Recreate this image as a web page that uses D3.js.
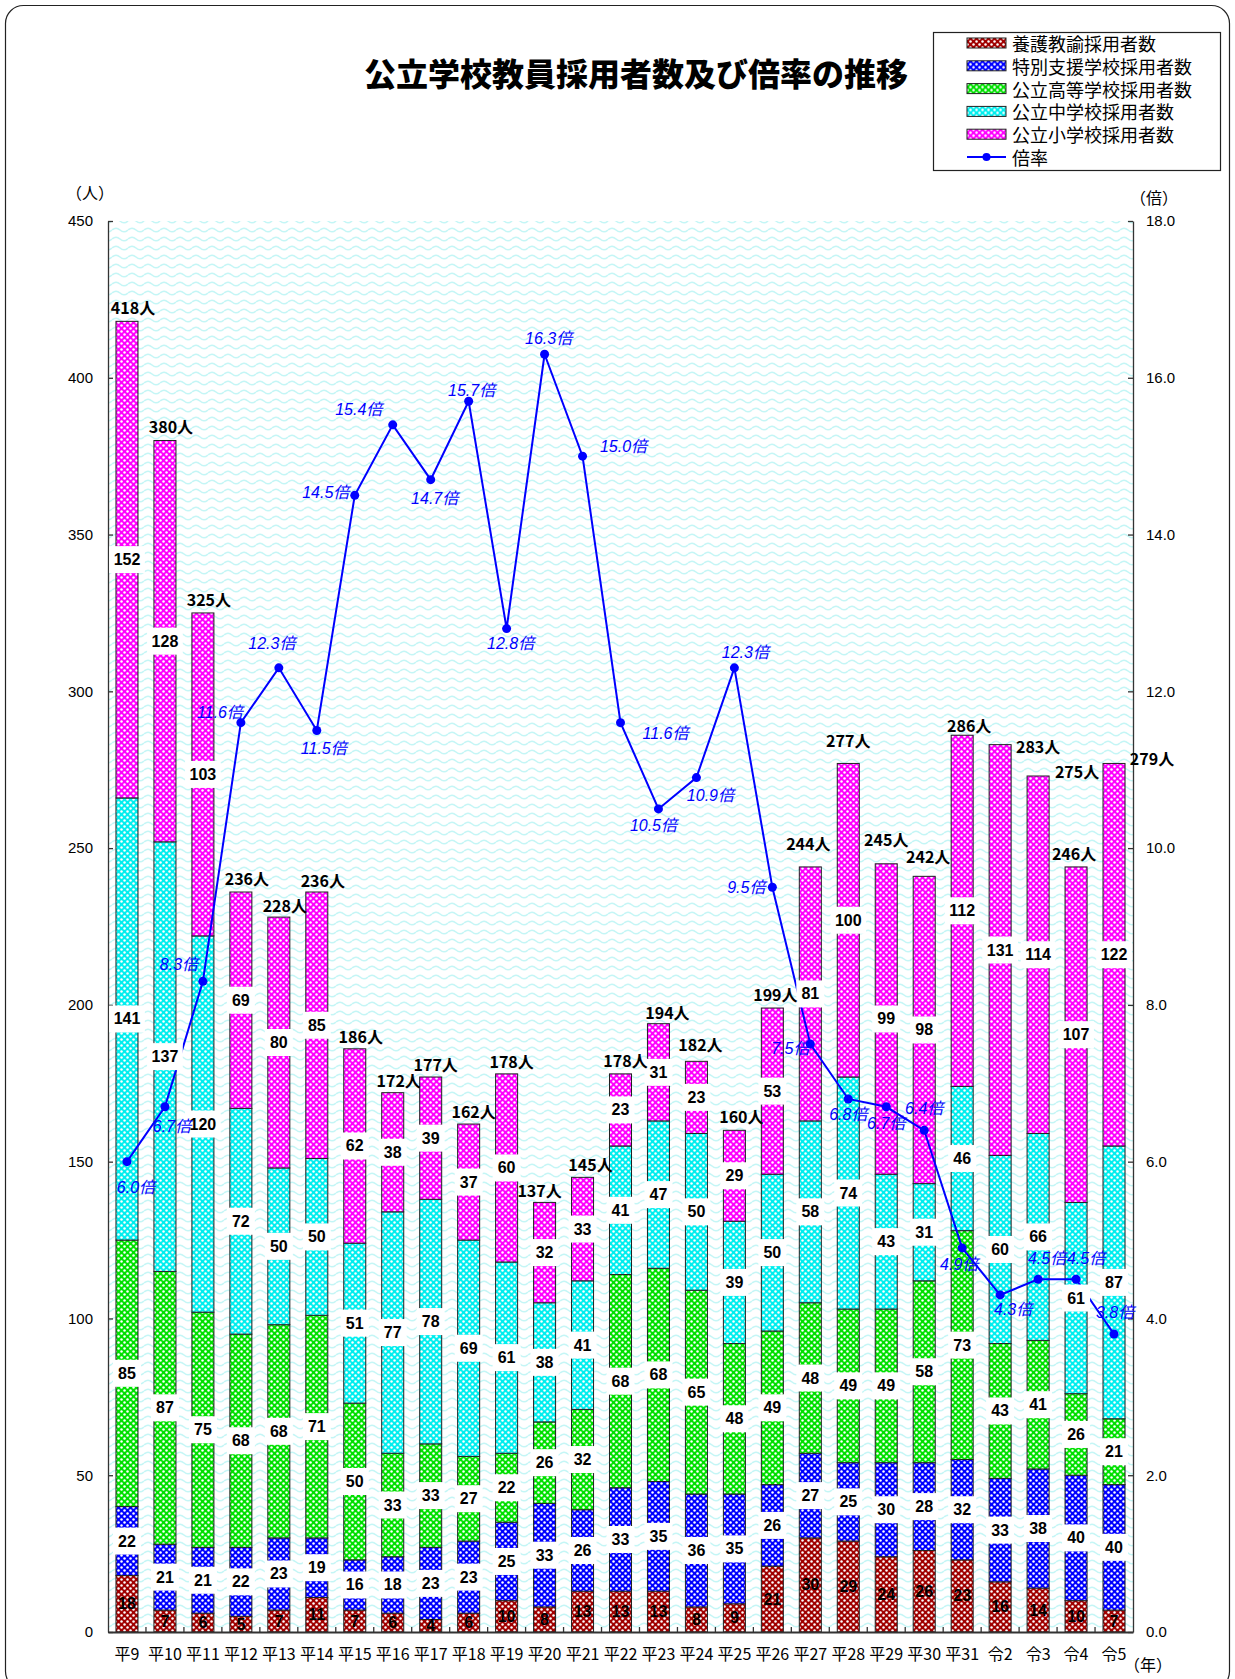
<!DOCTYPE html>
<html><head><meta charset="utf-8">
<script src="https://cdn.jsdelivr.net/npm/d3@7"></script>
<style>body{margin:0;background:#fff;} svg{display:block;}</style>
</head><body>
<svg id="chart" width="1235" height="1679"></svg>
<script>
// ---- data ----
const categories = ["平9","平10","平11","平12","平13","平14","平15","平16","平17","平18","平19","平20","平21","平22","平23","平24","平25","平26","平27","平28","平29","平30","平31","令2","令3","令4","令5"];
const yogo      = [18,7,6,5,7,11,7,6,4,6,10,8,13,13,13,8,9,21,30,29,24,26,23,16,14,10,7];
const tokubetsu = [22,21,21,22,23,19,16,18,23,23,25,33,26,33,35,36,35,26,27,25,30,28,32,33,38,40,40];
const koto      = [85,87,75,68,68,71,50,33,33,27,22,26,32,68,68,65,48,49,48,49,49,58,73,43,41,26,21];
const chugaku   = [141,137,120,72,50,50,51,77,78,69,61,38,41,41,47,50,39,50,58,74,43,31,46,60,66,61,87];
const shogaku   = [152,128,103,69,80,85,62,38,39,37,60,32,33,23,31,23,29,53,81,100,99,98,112,131,114,107,122];
const totals    = [418,380,325,236,228,236,186,172,177,162,178,137,145,178,194,182,160,199,244,277,245,242,286,283,275,246,279];
const rates     = [6.0,6.7,8.3,11.6,12.3,11.5,14.5,15.4,14.7,15.7,12.8,16.3,15.0,11.6,10.5,10.9,12.3,9.5,7.5,6.8,6.7,6.4,4.9,4.3,4.5,4.5,3.8];
const seriesNames = ["養護教諭採用者数","特別支援学校採用者数","公立高等学校採用者数","公立中学校採用者数","公立小学校採用者数"];
const rateName = "倍率";
const leftTicks  = [0,50,100,150,200,250,300,350,400,450];
const rightTicks = [0,2,4,6,8,10,12,14,16,18];

// ---- layout (label placement tweaks, px) ----
const totalLabelShift = [[6,-14],[6,-14],[6,-14],[6,-14],[6,-12],[6,-12],[6,-13],[6,-13],[5,-13],[5,-13],[5,-13],[-5,-12],[8,-13],[5,-14],[9,-12],[4,-17],[7,-14],[3,-14],[-2,-24],[0,-23],[0,-25],[4,-20],[7,-10],[38,1],[39,-5],[-2,-14],[38,-5]];
const rateLabelShift = [[9,26],[7,20],[-24,-17],[-21,-10],[-7,-24],[7,18],[-29,-3],[-34,-15],[4,19],[3,-11],[4,15],[4,-16],[41,-10],[45,11],[-5,17],[14,18],[11,-15],[-26,0],[-20,4],[0,16],[0,17],[0,-22],[-3,17],[13,15],[9,-21],[10,-21],[1,-22]];

const seriesKeys = ["yogo","tokubetsu","koto","chugaku","shogaku"];
const seriesColors = ["#a00000","#0000ff","#00e000","#00eeee","#ff00ff"];
const table = categories.map((c,i)=>({cat:c, yogo:yogo[i], tokubetsu:tokubetsu[i], koto:koto[i], chugaku:chugaku[i], shogaku:shogaku[i]}));

const svg = d3.select("#chart");
const defs = svg.append("defs");
const X0 = 108, X1 = 1133, Y0 = 1632, Y1 = 221;
const JP = "'Noto Sans CJK JP','Liberation Sans',sans-serif";
const NUM = "'Liberation Sans','Noto Sans CJK JP',sans-serif";

// patterns
seriesColors.forEach((col,i)=>{
  const p = defs.append("pattern").attr("id","pat"+i).attr("patternUnits","userSpaceOnUse").attr("width",6).attr("height",6);
  p.append("rect").attr("width",6).attr("height",6).attr("fill",col);
  p.append("circle").attr("cx",1.5).attr("cy",1.5).attr("r",1.25).attr("fill","#fff");
  p.append("circle").attr("cx",4.5).attr("cy",4.5).attr("r",1.25).attr("fill","#fff");
});
const wave = defs.append("pattern").attr("id","wave").attr("patternUnits","userSpaceOnUse").attr("width",16).attr("height",9);
wave.append("rect").attr("width",16).attr("height",9).attr("fill","#ffffff");
wave.append("path").attr("d","M0 5 Q4 1.5 8 5 T16 5").attr("fill","none").attr("stroke","#c4f6f6").attr("stroke-width",1.6);

// outer frame
svg.append("rect").attr("x",5.5).attr("y",5.5).attr("width",1224).attr("height",1684).attr("rx",18)
  .attr("fill","#fff").attr("stroke","#222").attr("stroke-width",1.2);

// scales
const x = d3.scaleBand().domain(categories).range([X0,X1]).paddingInner(0.42).paddingOuter(0.21);
const y = d3.scaleLinear().domain([0,450]).range([Y0,Y1]);
const yr = d3.scaleLinear().domain([0,18]).range([Y0,Y1]);

// plot background
svg.append("rect").attr("x",X0).attr("y",Y1).attr("width",X1-X0).attr("height",Y0-Y1).attr("fill","url(#wave)");

// bars
const stacked = d3.stack().keys(seriesKeys)(table);
stacked.forEach((s,si)=>{
  svg.append("g").selectAll("rect").data(s).join("rect")
    .attr("x",d=>x(d.data.cat)).attr("width",x.bandwidth())
    .attr("y",d=>y(d[1])).attr("height",d=>y(d[0])-y(d[1]))
    .attr("fill","url(#pat"+si+")").attr("stroke","#222").attr("stroke-width",1);
});

// axes
const axL = svg.append("g").attr("transform",`translate(${X0},0)`)
  .call(d3.axisLeft(y).tickValues(leftTicks).tickSizeInner(-5).tickSizeOuter(0).tickPadding(15));
const axR = svg.append("g").attr("transform",`translate(${X1},0)`)
  .call(d3.axisRight(yr).tickValues(rightTicks).tickSizeInner(-5).tickSizeOuter(0).tickPadding(13).tickFormat(d3.format(".1f")));
[axL,axR].forEach(a=>{
  a.selectAll("text").attr("font-family",NUM).attr("font-size",15).attr("fill","#000");
  a.selectAll("line,path").attr("stroke","#333").attr("stroke-width",1.3);
});
const axB = svg.append("g").attr("transform",`translate(0,${Y0})`)
  .call(d3.axisBottom(x).tickSize(0).tickPadding(17));
axB.select("path").attr("stroke","#333").attr("stroke-width",2);
axB.selectAll("text").attr("font-family",JP).attr("font-size",16).attr("fill","#000");
// category separators (inward ticks)
svg.append("g").selectAll("line").data(d3.range(1,categories.length)).join("line")
  .attr("x1",i=>X0+i*x.step()).attr("x2",i=>X0+i*x.step()).attr("y1",Y0).attr("y2",Y0-5)
  .attr("stroke","#333").attr("stroke-width",1.3);

// unit labels
svg.append("text").attr("x",90).attr("y",192).attr("text-anchor","middle").attr("dominant-baseline","central")
  .attr("font-family",JP).attr("font-size",16).text("（人）");
svg.append("text").attr("x",1154).attr("y",197).attr("text-anchor","middle").attr("dominant-baseline","central")
  .attr("font-family",JP).attr("font-size",16).text("（倍）");
svg.append("text").attr("x",1148).attr("y",1664).attr("text-anchor","middle").attr("dominant-baseline","central")
  .attr("font-family",JP).attr("font-size",16).text("（年）");

// rate line
const cx = c => x(c)+x.bandwidth()/2;
svg.append("path").datum(rates)
  .attr("d",d3.line().x((d,i)=>cx(categories[i])).y(d=>yr(d)))
  .attr("fill","none").attr("stroke","#0000ff").attr("stroke-width",2);
svg.append("g").selectAll("circle").data(rates).join("circle")
  .attr("cx",(d,i)=>cx(categories[i])).attr("cy",d=>yr(d)).attr("r",4.5).attr("fill","#0000ff");

// segment value labels
const labG = svg.append("g");
stacked.forEach((s,si)=>{
  s.forEach(d=>{
    const v = d[1]-d[0];
    const px = cx(d.data.cat), py = (y(d[0])+y(d[1]))/2;
    const g = labG.append("g");
    const t = g.append("text").attr("x",px).attr("y",py).attr("text-anchor","middle").attr("dominant-baseline","central")
      .attr("font-family",NUM).attr("font-weight","bold").attr("font-size",16).attr("fill","#000").text(v);
    if (si>0) {
      const w = Math.max(28, t.node().getComputedTextLength()+9);
      g.insert("rect","text").attr("x",px-w/2).attr("y",py-13.5).attr("width",w).attr("height",27).attr("fill","#fff");
    }
  });
});

// total labels
svg.append("g").selectAll("text").data(totals).join("text")
  .attr("x",(d,i)=>cx(categories[i])+totalLabelShift[i][0])
  .attr("y",(d,i)=>y(stacked[4][i][1])+totalLabelShift[i][1])
  .attr("text-anchor","middle").attr("dominant-baseline","central")
  .attr("font-family",JP).attr("font-weight","bold").attr("font-size",16).attr("fill","#000")
  .text(d=>d+"人");

// rate labels
svg.append("g").selectAll("text").data(rates).join("text")
  .attr("x",(d,i)=>cx(categories[i])+rateLabelShift[i][0])
  .attr("y",(d,i)=>yr(d)+rateLabelShift[i][1])
  .attr("text-anchor","middle").attr("dominant-baseline","central")
  .attr("font-family",NUM).attr("font-style","italic").attr("font-size",16).attr("fill","#0000ff")
  .text(d=>d3.format(".1f")(d)+"倍");

// title
svg.append("text").attr("x",636).attr("y",72).attr("text-anchor","middle").attr("dominant-baseline","central")
  .attr("font-family",JP).attr("font-weight","900").attr("font-size",32).text("公立学校教員採用者数及び倍率の推移");

// legend
const LX = 933, LY = 32;
svg.append("rect").attr("x",LX+0.5).attr("y",LY+0.5).attr("width",287).attr("height",138).attr("fill","#fff").attr("stroke","#222").attr("stroke-width",1.2);
const legItems = seriesNames.map((n,i)=>({name:n, idx:i})).concat([{name:rateName, idx:-1}]);
const lg = svg.append("g").selectAll("g").data(legItems).join("g")
  .attr("transform",(d,i)=>`translate(0,${43+i*22.8})`);
lg.filter(d=>d.idx>=0).append("rect").attr("x",967).attr("y",-5).attr("width",39).attr("height",10)
  .attr("fill",d=>`url(#pat${d.idx})`).attr("stroke","#222").attr("stroke-width",1);
lg.filter(d=>d.idx<0).append("line").attr("x1",967).attr("x2",1006).attr("stroke","#0000ff").attr("stroke-width",2);
lg.filter(d=>d.idx<0).append("circle").attr("cx",986.5).attr("r",4).attr("fill","#0000ff");
lg.append("text").attr("x",1012).attr("dominant-baseline","central").attr("font-family",JP).attr("font-size",18).text(d=>d.name);
</script>
</body></html>
